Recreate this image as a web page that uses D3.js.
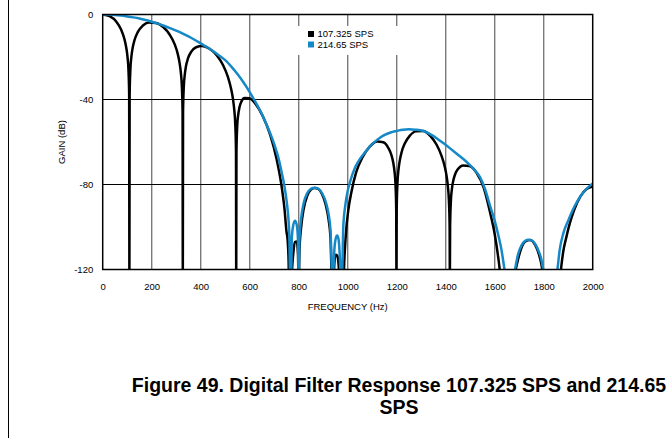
<!DOCTYPE html>
<html>
<head>
<meta charset="utf-8">
<script src="https://cdn.jsdelivr.net/npm/d3@7"></script>
<style>
  body { margin: 0; background: #fff; }
  text { font-family: Arial, "Liberation Sans", sans-serif; }
</style>
</head>
<body>
<svg id="chart" width="671" height="438"></svg>
<script>
// tick values
const xTicks = [0, 200, 400, 600, 800, 1000, 1200, 1400, 1600, 1800, 2000];
const yTicks = [0, -40, -80, -120];
const seriesNames = ["107.325 SPS", "214.65 SPS"];
const seriesColors = ["#000000", "#1589c8"];

// 214.65 SPS response, [Hz, dB]
const sps214 = [
  [0, 0], [25, -0.05], [50, -0.2], [75, -0.5], [100, -0.9], [125, -1.35], [150, -1.9],
  [175, -2.6], [200, -3.4], [225, -4.3], [250, -5.3], [275, -6.4], [300, -7.6],
  [325, -8.9], [350, -10.3], [375, -11.9], [400, -13.6], [425, -15.3], [450, -17.2],
  [475, -19.3], [500, -21.5], [525, -24.5], [550, -28], [575, -32], [600, -36.5],
  [625, -41.5], [650, -47], [675, -53.5], [700, -61], [715, -66.5], [730, -74],
  [742, -81], [752, -89], [758, -96], [762, -105], [764, -120], [767, -130], [770, -120],
  [772, -105], [778, -99], [785, -97], [792, -99], [797, -106], [800, -125], [803, -106],
  [810, -96], [820, -89], [835, -84], [850, -82], [865, -81.5], [880, -82], [895, -84],
  [910, -88], [922, -94], [930, -102], [935, -120], [938, -130], [942, -120], [946, -110],
  [951, -105.5], [957, -104], [963, -106], [967, -112], [970, -120], [974, -130],
  [978, -120], [982, -100], [990, -90], [1000, -83], [1009, -79], [1030, -72],
  [1050, -68], [1070, -65], [1091, -62], [1120, -59], [1145, -57], [1175, -55.5],
  [1200, -54.8], [1225, -54.2], [1250, -54], [1275, -54.2], [1309, -54.8], [1340, -56.5],
  [1363, -58.2], [1390, -60.5], [1418, -63], [1445, -65.5], [1472, -68], [1500, -71],
  [1520, -73.5], [1540, -76.5], [1560, -82], [1581, -90], [1600, -97], [1615, -104],
  [1628, -111], [1640, -120], [1662, -135], [1683, -120], [1695, -113], [1710, -108.5],
  [1725, -106.5], [1737, -106], [1750, -106.3], [1765, -108], [1780, -111.5],
  [1790, -115], [1798, -120], [1827, -135], [1856, -120], [1865, -111], [1880, -103],
  [1900, -97], [1925, -90.5], [1950, -85.5], [1975, -82], [2000, -79.5]
];

// 107.325 SPS response, [Hz, dB]
const sps107 = [
  [0, 0], [30, -0.9], [55, -3.3], [75, -7.1], [88, -11.3], [96, -15.5], [101, -19.7],
  [105, -25.8], [108, -37.9], [109, -125],
  [110, -37.9], [113, -25.9], [117, -20], [122, -15.9], [130, -12], [143, -8.3],
  [163, -5.3], [188, -3.8], [218, -4.05], [248, -6], [273, -9.4], [293, -13.8],
  [306, -18.4], [314, -22.9], [319, -27.4], [323, -33.6], [326, -45.8], [327, -125],
  [328, -45.9], [331, -34], [335, -28.3], [340, -24.3], [348, -20.7], [361, -17.6],
  [381, -15.4], [406, -14.8], [436, -16.1], [466, -19.3], [491, -23.8], [511, -29.4],
  [524, -34.9], [532, -40], [537, -44.9], [541, -51.5], [544, -64], [545, -125],
  [546, -64.3], [549, -52.7], [553, -47.3], [558, -43.8], [566, -41], [579, -39.3],
  [599, -39.4], [624, -42.1], [654, -48], [684, -56.8], [709, -67.6], [729, -79.9],
  [742, -91.5], [750, -102], [755, -106.6], [759, -116.8], [762, -141], [763, -150],
  [768, -140], [772, -122.7], [778, -112.4], [785, -107.1], [792, -106.8], [797, -112.6],
  [800, -127], [803, -111.3], [810, -100.1], [820, -91.7], [835, -85.3], [850, -82.4],
  [865, -81.6], [880, -82.1], [895, -84.5], [910, -89.4], [922, -96.5], [930, -105.5],
  [935, -125], [940, -130], [946, -116.3], [951, -113], [957, -113.4], [963, -117.9],
  [967, -126], [975, -150], [981, -160],
  [982, -136.8], [985, -119.8], [989, -109.8], [994, -101.1], [1002, -92.5],
  [1015, -83.6], [1035, -74.1], [1060, -67.3], [1090, -62.2], [1120, -59.8],
  [1145, -60.1], [1165, -62.6], [1178, -66], [1186, -69.8], [1191, -73.8], [1195, -79.7],
  [1198, -91.7], [1199, -125],
  [1200, -91.6], [1203, -79.5], [1207, -73.4], [1212, -69.1], [1220, -64.8], [1233, -60.7],
  [1253, -57.1], [1278, -55], [1308, -54.8], [1338, -57.2], [1363, -61.3], [1383, -66.5],
  [1396, -71.5], [1404, -76.3], [1409, -81], [1413, -87.4], [1416, -99.6], [1417, -125],
  [1418, -99.8], [1421, -88.1], [1425, -82.4], [1430, -78.7], [1438, -75.3], [1451, -72.6],
  [1471, -71], [1496, -71.3], [1526, -74.5], [1556, -81.8], [1581, -93.1], [1601, -104],
  [1614, -114], [1622, -122], [1635, -150], [1660, -150], [1683, -122],
  [1695, -115.4], [1710, -109.6], [1725, -106.8], [1744, -106.1], [1765, -108.4],
  [1780, -112.7], [1790, -117.2], [1798, -123], [1830, -150], [1853, -150],
  [1865, -126.2], [1872, -118.4], [1880, -111.4], [1892, -105], [1907, -98.1],
  [1925, -91.8], [1950, -85.6], [1975, -82.1], [2000, -80.9]
];

const svg = d3.select("#chart");
const margin = {top: 14.5, left: 102.7, right: 78.3, bottom: 168.5};
const width = 671, height = 438;

const x = d3.scaleLinear().domain([0, 2000]).range([margin.left, width - margin.right]);
const y = d3.scaleLinear().domain([-120, 0]).range([height - margin.bottom, margin.top]);

// page border line on the left
svg.append("line")
    .attr("x1", 8.5).attr("x2", 8.5)
    .attr("y1", 0).attr("y2", height)
    .attr("stroke", "#000").attr("stroke-width", 1);

svg.append("clipPath").attr("id", "plot-clip")
  .append("rect")
    .attr("x", x(0)).attr("y", y(0))
    .attr("width", x(2000) - x(0)).attr("height", y(-120) - y(0));

// grid
svg.append("g").selectAll("line")
    .data(xTicks.slice(1, -1))
    .enter().append("line")
    .attr("x1", d => x(d)).attr("x2", d => x(d))
    .attr("y1", y(0)).attr("y2", y(-120))
    .attr("stroke", "#7a7a7a").attr("stroke-width", 1.4);

svg.append("g").selectAll("line")
    .data(yTicks.slice(1, -1))
    .enter().append("line")
    .attr("x1", x(0)).attr("x2", x(2000))
    .attr("y1", d => y(d)).attr("y2", d => y(d))
    .attr("stroke", "#000").attr("stroke-width", 1);

// legend box hides the grid behind it
svg.append("rect")
    .attr("x", 293).attr("y", 26)
    .attr("width", 108).attr("height", 29)
    .attr("fill", "#fff");

const line = d3.line()
    .x(d => x(d[0]))
    .y(d => y(d[1]))
    .curve(d3.curveMonotoneX);

const plot = svg.append("g").attr("clip-path", "url(#plot-clip)");

plot.append("path")
    .datum(sps107)
    .attr("d", line)
    .attr("fill", "none")
    .attr("stroke", seriesColors[0])
    .attr("stroke-width", 2.5);

plot.append("path")
    .datum(sps214)
    .attr("d", line)
    .attr("fill", "none")
    .attr("stroke", seriesColors[1])
    .attr("stroke-width", 2.5);

// frame
svg.append("rect")
    .attr("x", x(0)).attr("y", y(0))
    .attr("width", x(2000) - x(0)).attr("height", y(-120) - y(0))
    .attr("fill", "none").attr("stroke", "#000").attr("stroke-width", 1.5);

// axes (labels only)
const xAxis = svg.append("g")
    .attr("transform", "translate(0," + (y(-120) + 13.5) + ")")
    .call(d3.axisBottom(x).tickValues(xTicks).tickSize(0).tickPadding(0)
        .tickFormat(d => String(d)));
xAxis.select(".domain").remove();
xAxis.selectAll("text").attr("font-size", 9.5).attr("fill", "#000");

const yAxis = svg.append("g")
    .attr("transform", "translate(" + (x(0) - 9.5) + ",0)")
    .call(d3.axisLeft(y).tickValues(yTicks).tickSize(0).tickPadding(0)
        .tickFormat(d => String(d)));
yAxis.select(".domain").remove();
yAxis.selectAll("text").attr("font-size", 9.5).attr("fill", "#000");

svg.append("text")
    .attr("x", (x(0) + x(2000)) / 2).attr("y", 309.5)
    .attr("text-anchor", "middle").attr("font-size", 9.5)
    .text("FREQUENCY (Hz)");

svg.append("text")
    .attr("transform", "translate(65," + ((y(0) + y(-120)) / 2) + ") rotate(-90)")
    .attr("text-anchor", "middle").attr("font-size", 9.5)
    .text("GAIN (dB)");

// legend
const legend = svg.append("g").selectAll("g")
    .data(seriesNames)
    .enter().append("g")
    .attr("transform", (d, i) => "translate(308," + (31 + i * 10.5) + ")");
legend.append("rect")
    .attr("width", 6).attr("height", 6)
    .attr("fill", (d, i) => seriesColors[i]);
legend.append("text")
    .attr("x", 9.5).attr("y", 6.3)
    .attr("font-size", 9.5)
    .text(d => d);

// caption
const caption = svg.append("text")
    .attr("text-anchor", "middle")
    .attr("font-size", 19.5).attr("font-weight", "bold");
caption.append("tspan").attr("x", 399).attr("y", 392)
    .text("Figure 49. Digital Filter Response 107.325 SPS and 214.65");
caption.append("tspan").attr("x", 399).attr("y", 414)
    .text("SPS");
</script>
</body>
</html>
